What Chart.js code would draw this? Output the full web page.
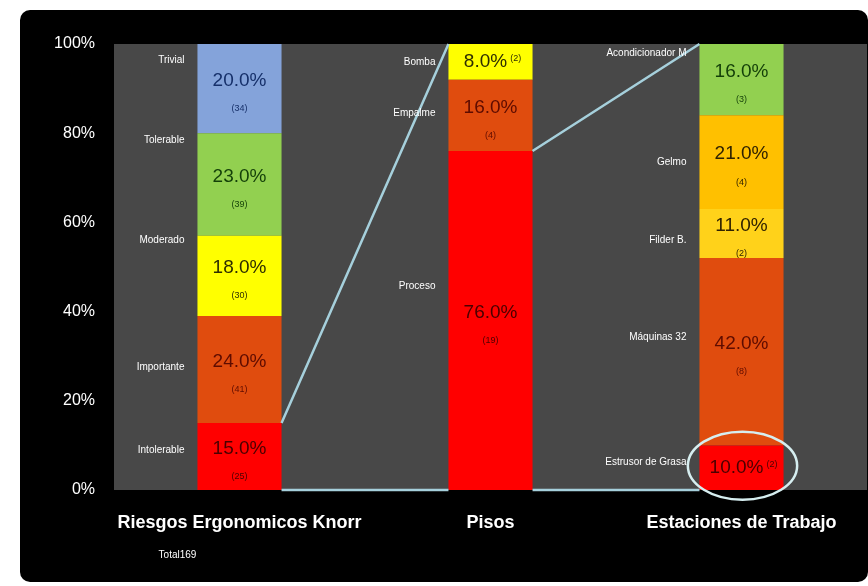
<!DOCTYPE html>
<html>
<head>
<meta charset="utf-8">
<script src="https://cdn.jsdelivr.net/npm/chart.js@4"></script>
<style>
  html, body { margin: 0; padding: 0; background: #fff; }
  #frame { position: absolute; left: 20px; top: 10px; width: 848px; height: 572px; background: #000; border-radius: 10px; }
  #wrap { position: absolute; left: 0; top: 0; width: 868px; height: 586px; }
</style>
</head>
<body>
<div id="frame"></div>
<div id="wrap"><canvas id="riesgosChart"></canvas></div>
<script>
const categories = ["Riesgos Ergonomicos Knorr", "Pisos", "Estaciones de Trabajo"];
const yTicks = [0, 20, 40, 60, 80, 100];
const totalLabel = "Total169";

// segments listed bottom to top
const riesgosNames = ["Intolerable", "Importante", "Moderado", "Tolerable", "Trivial"];
const riesgosPct = [15, 24, 18, 23, 20];
const riesgosCount = [25, 41, 30, 39, 34];

const pisosNames = ["Proceso", "Empalme", "Bomba"];
const pisosPct = [76, 16, 8];
const pisosCount = [19, 4, 2];

const estacionesNames = ["Estrusor de Grasa", "Máquinas 32", "Filder B.", "Gelmo", "Acondicionador M"];
const estacionesPct = [10, 42, 11, 21, 16];
const estacionesCount = [2, 8, 2, 4, 3];

const bars = [
  { names: riesgosNames, pct: riesgosPct, count: riesgosCount,
    fill: ["#ff0000", "#e04c0e", "#ffff00", "#92d050", "#84a3da"],
    ink: ["#4a0000", "#5e0c00", "#2e2e00", "#133f08", "#16306a"],
    nameAt: [0.6, 0.52, 0.94, 0.93, 0.82] },
  { names: pisosNames, pct: pisosPct, count: pisosCount,
    fill: ["#ff0000", "#e04c0e", "#ffff00"],
    ink: ["#4a0000", "#5e0c00", "#2e2e00"],
    nameAt: [0.6, 0.53, 0.5] },
  { names: estacionesNames, pct: estacionesPct, count: estacionesCount,
    fill: ["#ff0000", "#e04c0e", "#ffd21a", "#ffc000", "#92d050"],
    ink: ["#4a0000", "#5e0c00", "#302200", "#302200", "#133f08"],
    nameAt: [0.63, 0.58, 0.36, 0.5, 0.87] }
];

const datasets = [];
for (let i = 0; i < 5; i++) {
  datasets.push({
    data: bars.map(b => b.pct[i] ?? null),
    backgroundColor: bars.map(b => b.fill[i] || "transparent"),
    borderWidth: 0,
    barPercentage: 0.335,
    categoryPercentage: 1
  });
}

const decorations = {
  id: "decorations",
  beforeDraw(chart) {
    const { ctx, chartArea: a } = chart;
    ctx.save();
    ctx.fillStyle = "#484848";
    ctx.fillRect(a.left, a.top, a.right - a.left, a.bottom - a.top);
    ctx.restore();
  },
  afterDatasetsDraw(chart) {
    const { ctx } = chart;
    const y = chart.scales.y;
    const el = (i, c) => chart.getDatasetMeta(i).data[c];

    // series lines between the breakdown bars
    ctx.save();
    ctx.strokeStyle = "#a6d0dc";
    ctx.lineWidth = 2.5;
    for (let c = 0; c < 2; c++) {
      const from = el(0, c), to = el(0, c + 1);
      const fx = from.x + from.width / 2, tx = to.x - to.width / 2;
      ctx.beginPath();
      ctx.moveTo(fx, y.getPixelForValue(bars[c].pct[0]));
      ctx.lineTo(tx, y.getPixelForValue(100));
      ctx.moveTo(fx, y.getPixelForValue(0));
      ctx.lineTo(tx, y.getPixelForValue(0));
      ctx.stroke();
    }
    ctx.restore();

    // segment labels
    ctx.save();
    bars.forEach((b, c) => {
      b.pct.forEach((v, i) => {
        const e = el(i, c);
        const top = e.y, bottom = e.base, h = bottom - top, mid = (top + bottom) / 2;
        const left = e.x - e.width / 2;

        ctx.fillStyle = "#ffffff";
        ctx.font = "10px 'Liberation Sans'";
        ctx.textAlign = "right";
        ctx.textBaseline = "middle";
        ctx.fillText(b.names[i], left - 13, bottom - h * b.nameAt[i]);

        ctx.fillStyle = b.ink[i];
        ctx.textAlign = "center";
        const pctText = v.toFixed(1) + "%";
        if (h < 45) {
          ctx.font = "19px 'Liberation Sans'";
          ctx.fillText(pctText, e.x - 5, mid);
          const w = ctx.measureText(pctText).width;
          ctx.font = "9px 'Liberation Sans'";
          ctx.textAlign = "left";
          ctx.fillText("(" + b.count[i] + ")", e.x - 5 + w / 2 + 3, mid - 3);
        } else {
          ctx.font = "19px 'Liberation Sans'";
          ctx.fillText(pctText, e.x, mid - 8);
          ctx.font = "9px 'Liberation Sans'";
          ctx.fillText("(" + b.count[i] + ")", e.x, mid + 20);
        }
      });
    });

    // highlight ring on the smallest station segment
    const ring = el(0, 2);
    ctx.strokeStyle = "#d6eef0";
    ctx.lineWidth = 2.5;
    ctx.beginPath();
    ctx.ellipse(ring.x + 1, (ring.y + ring.base) / 2 - 2, ring.width * 0.65, 34, 0, 0, Math.PI * 2);
    ctx.stroke();

    // total under first category
    const x0 = chart.scales.x.getPixelForValue(0);
    ctx.fillStyle = "#ffffff";
    ctx.font = "10px 'Liberation Sans'";
    ctx.textAlign = "center";
    ctx.fillText(totalLabel, x0 - 62, y.bottom + 65);
    ctx.restore();
  }
};

new Chart(document.getElementById("riesgosChart"), {
  type: "bar",
  data: { labels: categories, datasets },
  options: {
    responsive: true,
    maintainAspectRatio: false,
    animation: false,
    layout: { padding: { top: 44, right: 1, left: 0, bottom: 0 } },
    plugins: { legend: { display: false }, tooltip: { enabled: false } },
    scales: {
      x: {
        stacked: true,
        grid: { display: false },
        border: { display: false },
        afterFit(s) { s.height = 96; },
        ticks: { color: "#ffffff", padding: 14, font: { family: "'Liberation Sans'", size: 18, weight: "bold" } }
      },
      y: {
        stacked: true,
        min: 0,
        max: 100,
        grid: { display: false },
        border: { display: false },
        afterFit(s) { s.width = 114; },
        afterBuildTicks(s) { s.ticks = yTicks.map(v => ({ value: v })); },
        ticks: { color: "#ffffff", padding: 11, font: { family: "'Liberation Sans'", size: 16 }, callback: v => v + "%" }
      }
    }
  },
  plugins: [decorations]
});
</script>
</body>
</html>
